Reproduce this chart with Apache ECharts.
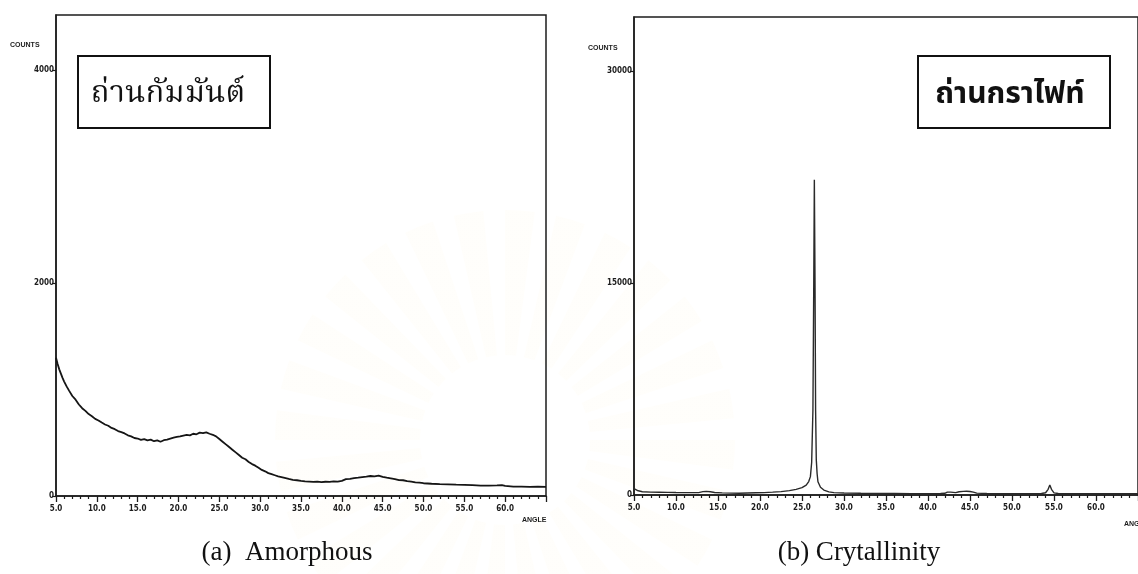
<!DOCTYPE html>
<html>
<head>
<meta charset="utf-8">
<script src="https://cdn.jsdelivr.net/npm/echarts@6/dist/echarts.min.js"></script>
<style>
html,body{margin:0;padding:0;background:#fff;}
#c{width:1138px;height:574px;}
</style>
</head>
<body>
<div id="c"></div>
<script>
// ---- Data ----
const amorphousAngle = [5.0,5.2,5.4,5.6,5.8,6.0,6.3,6.6,7.0,7.4,7.8,8.2,8.6,9.0,9.4,9.8,10.2,10.6,11.0,11.4,11.8,12.2,12.6,13.0,13.4,13.8,14.2,14.6,15.0,15.4,15.8,16.2,16.6,17.0,17.4,17.8,18.2,18.6,19.0,19.4,19.8,20.2,20.6,21.0,21.4,21.8,22.2,22.6,23.0,23.4,23.8,24.2,24.6,25.0,25.4,25.8,26.2,26.6,27.0,27.4,27.8,28.2,28.6,29.0,29.4,29.8,30.2,30.6,31.0,31.4,31.8,32.2,32.6,33.0,33.5,34.0,34.5,35.0,35.5,36.0,36.5,37.0,37.5,38.0,38.5,39.0,39.5,40.0,40.5,41.0,41.5,42.0,42.5,43.0,43.5,44.0,44.5,45.0,45.5,46.0,46.5,47.0,47.5,48.0,48.5,49.0,49.5,50.0,51.0,52.0,53.0,54.0,55.0,56.0,57.0,58.0,59.0,59.6,60.0,61.0,62.0,63.0,64.0,65.0];
const amorphousCounts = [1300,1240,1190,1150,1110,1075,1030,990,940,905,860,825,800,770,750,725,710,690,672,660,640,628,610,600,588,570,560,545,540,528,534,522,530,515,522,510,524,530,540,548,555,560,568,575,570,585,580,595,590,598,585,575,560,535,510,485,460,435,410,385,360,345,320,300,285,265,245,232,215,205,195,185,178,170,160,152,148,142,138,135,132,136,130,134,132,138,135,142,158,160,168,172,178,182,188,185,192,180,172,165,158,150,148,140,135,128,125,120,115,112,110,106,104,102,98,97,100,103,96,88,88,86,88,85];

const graphiteAngle = [5.0,5.1,5.5,6.0,7.0,8.0,9.0,10.0,11.0,12.0,12.7,13.2,13.6,14.1,14.6,15.5,16.5,17.5,18.5,19.5,20.5,21.5,22.5,23.5,24.3,25.0,25.5,25.8,26.0,26.15,26.3,26.4,26.47,26.55,26.62,26.7,26.8,26.9,27.2,27.6,28.2,28.8,30.0,32.0,34.0,36.0,38.0,40.0,41.5,42.0,42.3,42.5,42.7,42.9,43.3,43.7,44.2,44.6,45.0,45.4,45.8,47.0,50.0,52.0,53.5,54.0,54.3,54.5,54.7,55.0,55.5,57.0,60.0,63.0,65.0];
const graphiteCounts = [450,400,300,230,205,195,185,175,170,165,170,240,260,230,180,150,130,125,140,155,170,200,240,310,400,520,700,950,1300,2300,6000,15000,22300,15000,6000,2500,1500,940,550,350,220,165,140,120,110,105,100,100,105,120,200,300,200,130,170,230,260,270,250,200,130,110,100,100,110,160,400,710,400,150,110,100,100,100,100];

const xTickLabelsEvery = 5;      // degrees between labelled ticks
const leftYTicks = [0, 2000, 4000];
const rightYTicks = [0, 15000, 30000];
const leftBoxText = 'ถ่านกัมมันต์';
const rightBoxText = 'ถ่านกราไฟท์';
const leftCaption = '(a)  Amorphous';
const rightCaption = '(b) Crytallinity';

const ink = '#1c1c1c';
const tickFont = {fontFamily:'"Liberation Sans Narrow","DejaVu Sans Condensed",sans-serif',fontWeight:'bold',fontSize:8,color:ink};
const thaiSerif = '"Norasi","Kinnari","Noto Serif Thai","Noto Sans Thai Looped","Loma","Garuda",serif';
const thaiBold = '"Noto Sans Thai","Garuda","Loma","Tlwg Typo",sans-serif';

function pairs(xs, ys){ return xs.map((x,i)=>[x, ys[i]]); }

function xAxisCfg(gi){
  return {
    gridIndex: gi, type:'value', min:5, max:65, interval:xTickLabelsEvery,
    axisLine:{show:true, onZero:false, lineStyle:{color:ink,width:1.5}},
    axisTick:{show:true, length:6, lineStyle:{color:ink,width:1.3}},
    minorTick:{show:true, splitNumber:5, length:3, lineStyle:{color:ink,width:1.2}},
    splitLine:{show:false}, minorSplitLine:{show:false},
    axisLabel:Object.assign({margin:9, showMaxLabel:false, formatter:v=>v.toFixed(1)}, tickFont)
  };
}
function yAxisCfg(gi, max, interval){
  return {
    gridIndex: gi, type:'value', min:0, max:max, interval:interval,
    axisLine:{show:true, lineStyle:{color:ink,width:1.5}},
    axisTick:{show:true, length:4, lineStyle:{color:ink,width:1.2}},
    splitLine:{show:false},
    axisLabel:Object.assign({margin:2, showMaxLabel:false, formatter:v=>String(v)}, tickFont)
  };
}

// faint watermark emblem (decoration behind the charts)
const watermark = [];
const wcx = 505, wcy = 440;
for (let k = 0; k < 28; k++) {
  const a = k * Math.PI * 2 / 28;
  watermark.push({type:'sector', z:-10, silent:true,
    shape:{cx:wcx, cy:wcy, r0:85, r:230, startAngle:a, endAngle:a + 0.13},
    style:{fill:new echarts.graphic.RadialGradient(0.5,0.5,0.5,[{offset:0.35,color:'rgba(250,225,150,0.28)'},{offset:1,color:'rgba(250,225,150,0.04)'}], true)}});
}

const chart = echarts.init(document.getElementById('c'), null, {renderer:'canvas'});
chart.setOption({
  backgroundColor:'#ffffff',
  animation:false,
  grid:[
    {left:56, top:15, width:490, height:481, show:true, borderColor:ink, borderWidth:1.5, backgroundColor:'transparent'},
    {left:634, top:17, width:516, height:478, show:true, borderColor:ink, borderWidth:1.5, backgroundColor:'transparent'}
  ],
  xAxis:[xAxisCfg(0), xAxisCfg(1)],
  yAxis:[yAxisCfg(0, 4520, leftYTicks[1]-leftYTicks[0]), yAxisCfg(1, 33820, rightYTicks[1]-rightYTicks[0])],
  series:[
    {type:'line', xAxisIndex:0, yAxisIndex:0, data:pairs(amorphousAngle, amorphousCounts), showSymbol:false, smooth:false,
     lineStyle:{color:'#151515', width:1.8}},
    {type:'line', xAxisIndex:1, yAxisIndex:1, data:pairs(graphiteAngle, graphiteCounts), showSymbol:false, smooth:false,
     lineStyle:{color:'#2a2a2a', width:1.4}}
  ],
  graphic: watermark.concat([
    {type:'text', left:10, top:42, style:{text:'COUNTS', font:'bold 7px "Liberation Sans Narrow", sans-serif', fill:ink}},
    {type:'text', left:588, top:45, style:{text:'COUNTS', font:'bold 7px "Liberation Sans Narrow", sans-serif', fill:ink}},
    {type:'text', left:522, top:517, style:{text:'ANGLE', font:'bold 7px "Liberation Sans Narrow", sans-serif', fill:ink}},
    {type:'text', left:1124, top:521, style:{text:'ANGLE', font:'bold 7px "Liberation Sans Narrow", sans-serif', fill:ink}},
    {type:'rect', shape:{x:78, y:56, width:192, height:72}, style:{fill:'#fff', stroke:'#111', lineWidth:2}},
    {type:'text', x:168, y:97, style:{text:leftBoxText, font:'31px '+thaiSerif, fill:'#111', textAlign:'center', textVerticalAlign:'middle'}},
    {type:'rect', shape:{x:918, y:56, width:192, height:72}, style:{fill:'#fff', stroke:'#111', lineWidth:2}},
    {type:'text', x:1010, y:97, style:{text:rightBoxText, font:'bold 30px '+thaiBold, fill:'#111', textAlign:'center', textVerticalAlign:'middle'}},
    {type:'text', x:287, y:553, style:{text:leftCaption, font:'27px "Liberation Serif", serif', fill:'#111', textAlign:'center', textVerticalAlign:'middle'}},
    {type:'text', x:859, y:553, style:{text:rightCaption, font:'27px "Liberation Serif", serif', fill:'#111', textAlign:'center', textVerticalAlign:'middle'}}
  ])
});
</script>
</body>
</html>
